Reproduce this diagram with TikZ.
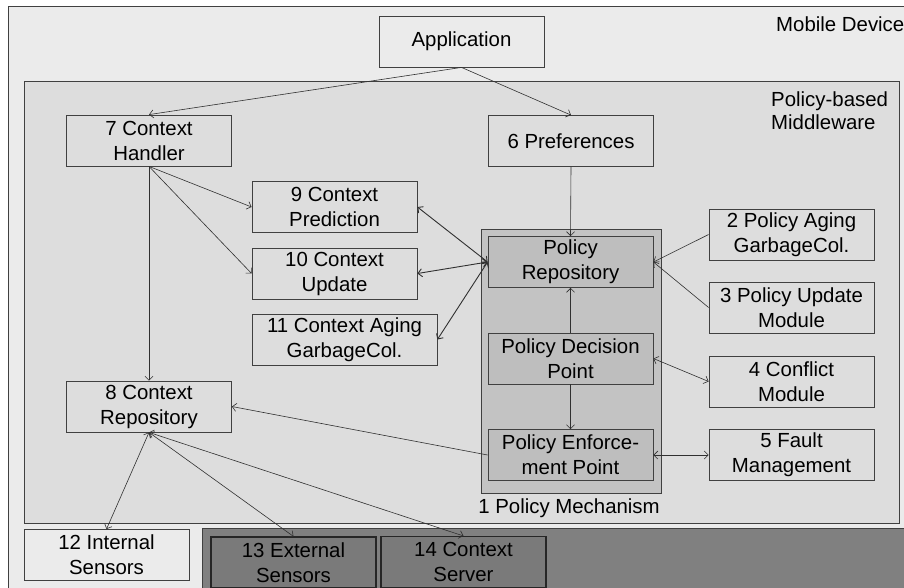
\documentclass[tikz,border=0pt]{standalone}
\usepackage{fontspec}
\setmainfont{Liberation Sans}
\usetikzlibrary{arrows.meta}
\definecolor{outerbg}{HTML}{EBEBEB}
\definecolor{midbg}{HTML}{DDDDDD}
\definecolor{pmbg}{HTML}{C3C3C3}
\definecolor{innerbg}{HTML}{BEBEBE}
\definecolor{darkbg}{HTML}{808080}
\definecolor{darkbox}{HTML}{7A7A7A}
\definecolor{edge}{HTML}{404040}
\definecolor{wire}{HTML}{303030}
\tikzset{
  box/.style={draw=edge, line width=0.8pt, fill=midbg, minimum width=165pt, minimum height=51pt,
    inner sep=0pt, align=center, font=\fontsize{20.4}{25}\selectfont},
  innerbox/.style={box, fill=innerbg},
  lightbox/.style={box, fill=outerbg},
  darkboxst/.style={box, fill=darkbox, draw=black!85, line width=1.1pt},
  lbl/.style={inner sep=0pt, align=left, font=\fontsize{20.4}{23}\selectfont},
  conn/.style={draw=wire, line width=0.6pt, -{Straight Barb[length=4pt,width=8pt]}},
  conn2/.style={draw=wire, line width=0.6pt, {Straight Barb[length=4pt,width=8pt]}-{Straight Barb[length=4pt,width=8pt]}},
  conn2b/.style={conn2, line width=0.9pt},
}
\begin{document}
\begin{tikzpicture}[x=1pt,y=-1pt]
\useasboundingbox (0,0) rectangle (904,587);
\fill[white] (0,0) rectangle (904,587);
% outer mobile device
\draw[draw=edge, line width=0.9pt, fill=outerbg] (8,6) rectangle (910,595);
\node[lbl, anchor=west] (mdl) at (776,24) {Mobile Device};
% middleware
\draw[draw=edge, line width=0.9pt, fill=midbg] (24,81) rectangle (899,523);
\node[lbl, anchor=north west] (mwl) at (771,92) {Policy-based\\Middleware};
% dark external region
\fill[darkbg] (202,528) rectangle (910,595);
\draw[draw=edge, line width=0.9pt] (202,595) -- (202,528) -- (910,528);
% policy mechanism
\draw[draw=edge, line width=0.9pt, fill=pmbg] (481,229) rectangle (661,493);
\node[lbl, anchor=center] (pml) at (569,508) {1 Policy Mechanism};

% nodes
\node[lightbox] (app) at (461.5,41.5) {Application};
\node[box] (pref) at (571,141) {6 Preferences};
\node[box] (ch) at (149,140.5) {7 Context\\Handler};
\node[box] (cp) at (334.5,207) {9 Context\\Prediction};
\node[box] (cu) at (334.5,273.5) {10 Context\\Update};
\node[box, minimum width=185pt] (ca) at (344.5,339.5) {11 Context Aging\\GarbageCol.};
\node[box] (cr) at (149,406.5) {8 Context\\Repository};
\node[innerbox] (pr) at (570.5,262) {Policy\\Repository};
\node[innerbox] (pdp) at (570.5,358.5) {Policy Decision\\Point};
\node[innerbox] (pep) at (570.5,455) {Policy Enforce-\\ment Point};
\node[box] (b2) at (791.5,234.5) {2 Policy Aging\\GarbageCol.};
\node[box] (b3) at (791.5,307.5) {3 Policy Update\\Module};
\node[box] (b4) at (791.5,381.5) {4 Conflict\\Module};
\node[box] (b5) at (791.5,455) {5 Fault\\Management};
\node[lightbox] (s12) at (106.5,555) {12 Internal\\Sensors};
\node[darkboxst] (s13) at (293.5,562.5) {13 External\\Sensors};
\node[darkboxst] (s14) at (463.5,562) {14 Context\\Server};

% connectors
\draw[conn] (app.south) -- (ch.north);
\draw[conn] (app.south) -- (pref.north);
\draw[conn] (pref.south) -- (pr.north);
\draw[conn] (ch.south) -- (cr.north);
\draw[conn] (ch.south) -- (cp.west);
\draw[conn] (ch.south) -- (cu.west);
\draw[conn2b] (cp.east) -- (pr.west);
\draw[conn2b] (cu.east) -- (pr.west);
\draw[conn2b] (ca.east) -- (pr.west);
\draw[conn] (pep.west) -- (cr.east);
\draw[conn] (pdp.north) -- (pr.south);
\draw[conn] (pdp.south) -- (pep.north);
\draw[conn] (b2.west) -- (pr.east);
\draw[conn] (b3.west) -- (pr.east);
\draw[conn2] (pdp.east) -- (b4.west);
\draw[conn2] (pep.east) -- (b5.west);
\draw[conn2] (cr.south) -- (s12.north);
\draw[conn2] (cr.south) -- (s13.north);
\draw[conn2] (cr.south) -- (s14.north);
\end{tikzpicture}
\end{document}
